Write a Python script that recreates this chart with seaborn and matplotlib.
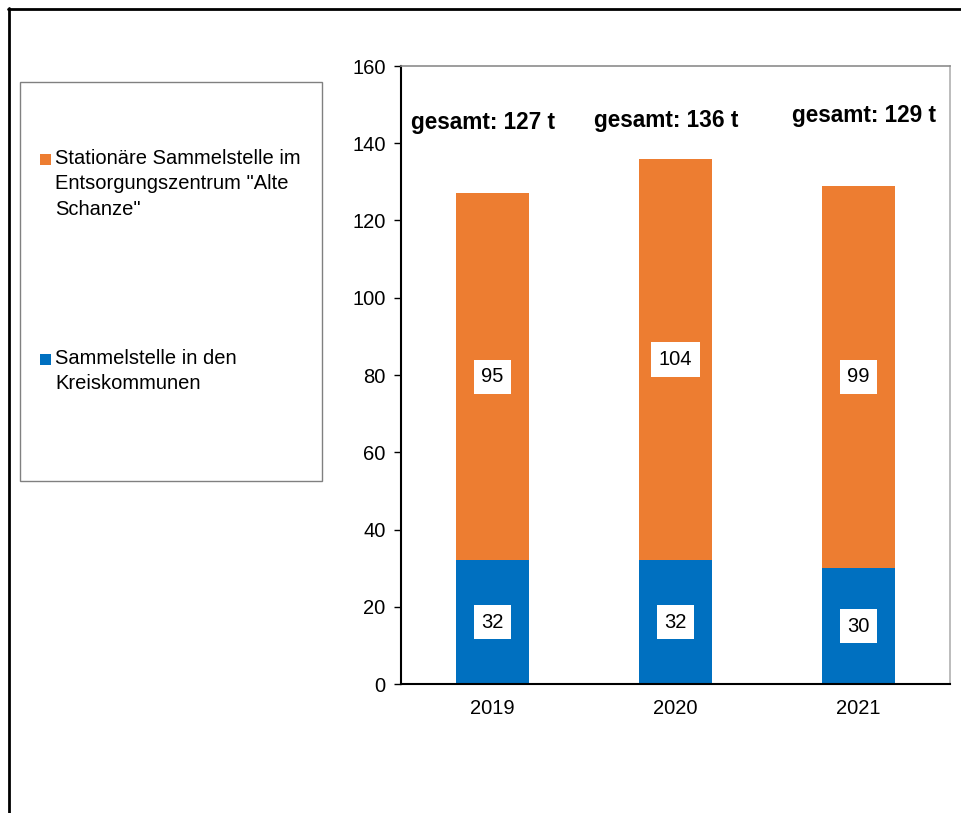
import pandas as pd
import matplotlib.pyplot as plt
from matplotlib.patches import Rectangle
from matplotlib.lines import Line2D
import seaborn as sns

# Daten (Tonnen)
jahre = ['2019', '2020', '2021']
kreiskommunen = [32, 32, 30]
alte_schanze = [95, 104, 99]
gesamt = [127, 136, 129]

label_blau = 'Sammelstelle in den\nKreiskommunen'
label_orange = 'Stationäre Sammelstelle im\nEntsorgungszentrum "Alte\nSchanze"'

farbe_blau = '#0070C0'
farbe_orange = '#ED7D31'

sns.set_style('white')
plt.rcParams['font.family'] = ['Liberation Sans', 'DejaVu Sans']
plt.rcParams['text.color'] = 'black'
plt.rcParams['xtick.color'] = 'black'
plt.rcParams['ytick.color'] = 'black'

df = pd.DataFrame({
    'Jahr': jahre * 2,
    'Quelle': ['blau'] * 3 + ['orange'] * 3,
    'Menge': kreiskommunen + alte_schanze,
})

W, H = 962, 813
fig = plt.figure(figsize=(W / 100, H / 100), dpi=100)

def fx(x):
    return x / W

def fy(y):
    return 1 - y / H

ax = fig.add_axes([fx(401), fy(684), fx(950) - fx(401), fy(66) - fy(684)])

# gestapelt: erste hue-Stufe liegt oben
sns.histplot(data=df, x='Jahr', weights='Menge', hue='Quelle', hue_order=['orange', 'blau'],
             multiple='stack', discrete=True, shrink=0.4, alpha=1, linewidth=0,
             palette={'blau': farbe_blau, 'orange': farbe_orange}, legend=False, ax=ax)

# Werte in weißen Kästchen
for c in ax.containers:
    ax.bar_label(c, fmt='%.0f', label_type='center', fontsize=14.5, color='black',
                 bbox=dict(boxstyle='square,pad=0.38', fc='white', ec='none'))

# Gesamtwerte über den Balken
label_y = [145.5, 146, 147.2]
label_dx = [-0.05, -0.05, 0.03]
for i, t in enumerate(gesamt):
    ax.text(i + label_dx[i], label_y[i], f'gesamt: {t} t', ha='center', va='center',
            fontsize=16.3, fontweight='bold', color='black')

ax.set_xlim(-0.5, 2.5)
ax.set_ylim(0, 160)
ax.set_yticks(range(0, 161, 20))
ax.set_xlabel('')
ax.set_ylabel('')
ax.set_xticks(range(3))
ax.set_xticklabels(jahre)
ax.set_xticks([-0.5, 0.5, 1.5, 2.5], minor=True)
ax.tick_params(axis='x', which='major', length=0, pad=11, labelsize=14.5, labelcolor='black')
ax.tick_params(axis='x', which='minor', length=6, width=1, color='#808080', direction='out')
ax.tick_params(axis='y', length=5, width=1, color='black', pad=6, labelsize=14.5,
               labelcolor='black', left=True)
ax.grid(False)

for s in ['left', 'bottom']:
    ax.spines[s].set_color('black')
    ax.spines[s].set_linewidth(1.5)
ax.spines['top'].set_color('#8c8c8c')
ax.spines['right'].set_color('#b0b0b0')
ax.spines['top'].set_linewidth(1.2)
ax.spines['right'].set_linewidth(1.2)

# Legende als Kasten links
fig.add_artist(Rectangle((fx(20), fy(481)), fx(322) - fx(20), fy(82) - fy(481),
                         transform=fig.transFigure, fill=False, ec='#808080', lw=1))
fig.add_artist(Rectangle((fx(40), fy(165)), fx(11), fy(154) - fy(165),
                         transform=fig.transFigure, fc=farbe_orange, ec='none'))
fig.add_artist(Rectangle((fx(40), fy(365)), fx(11), fy(354) - fy(365),
                         transform=fig.transFigure, fc=farbe_blau, ec='none'))
fig.text(fx(55), fy(149), label_orange, fontsize=14.5, va='top', ha='left', linespacing=1.42)
fig.text(fx(55), fy(349), label_blau, fontsize=14.5, va='top', ha='left', linespacing=1.42)

# äußerer Rahmen
fig.add_artist(Line2D([fx(8), 1], [fy(9), fy(9)], transform=fig.transFigure, color='black', lw=2))
fig.add_artist(Line2D([fx(9), fx(9)], [fy(8), 0], transform=fig.transFigure, color='black', lw=2))

fig.savefig('out.png', dpi=100)
